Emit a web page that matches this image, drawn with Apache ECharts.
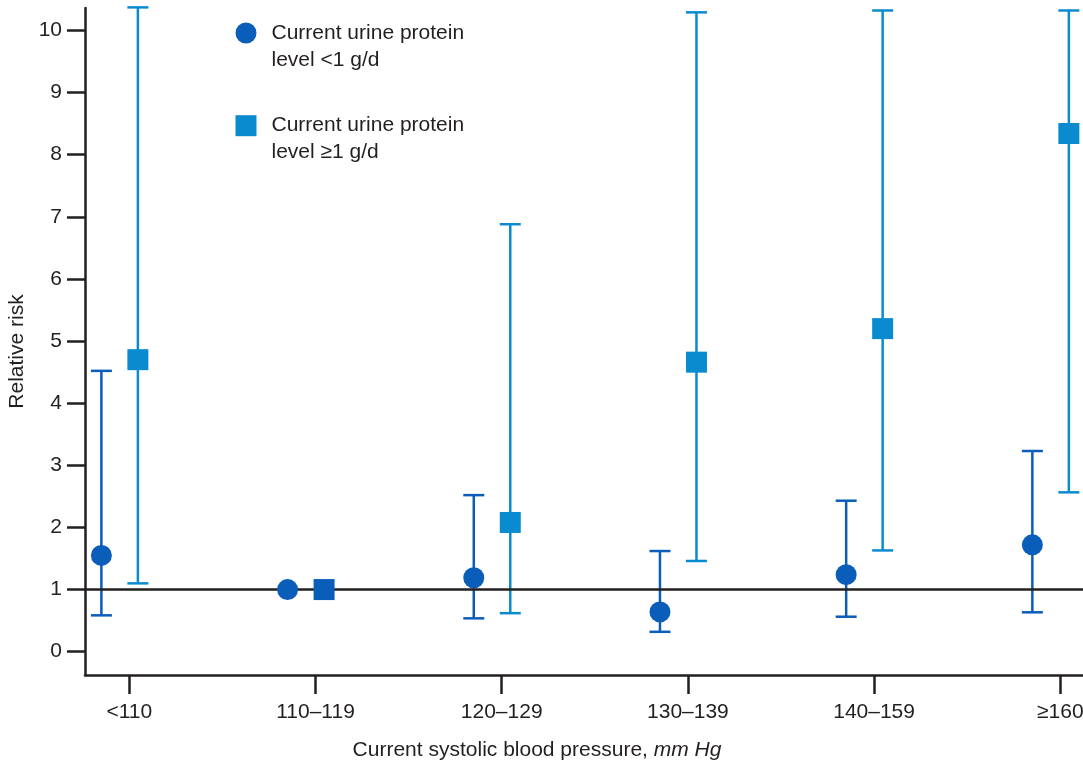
<!DOCTYPE html>
<html>
<head>
<meta charset="utf-8">
<script src="https://cdn.jsdelivr.net/npm/echarts@6/dist/echarts.min.js"></script>
<style>
html,body{margin:0;padding:0;background:#fff;}
#chart{width:1083px;height:763px;}
</style>
</head>
<body>
<div id="chart"></div>
<script>
// ---- data ----
const categories = ['<110', '110–119', '120–129', '130–139', '140–159', '≥160'];
const yTicks = [0, 1, 2, 3, 4, 5, 6, 7, 8, 9, 10];

const lowName = 'Current urine protein\nlevel <1 g/d';
const lowRR = [1.55, 1.0, 1.19, 0.64, 1.24, 1.72];
const lowCILower = [0.585, null, 0.537, 0.32, 0.563, 0.634];
const lowCIUpper = [4.52, null, 2.52, 1.62, 2.43, 3.23];

const highName = 'Current urine protein\nlevel ≥1 g/d';
const highRR = [4.70, 1.0, 2.08, 4.66, 5.20, 8.34];
const highCILower = [1.10, null, 0.62, 1.46, 1.63, 2.565];
const highCIUpper = [10.37, null, 6.88, 10.29, 10.32, 10.32];

const referenceLevel = 1;
const referenceIndex = 1;

// ---- styling / layout constants ----
const DARK = '#0A5DB9';
const LIGHT = '#0A8BD0';
const INK = '#231F20';
const FONT = '"Liberation Sans", Arial, Helvetica, sans-serif';
const FS = 21;
const LOW_OFFSET = -0.150;
const HIGH_OFFSET = 0.046;
const CAP_HALF = 10.5;

function pointData(values, offset) {
  return values.map((v, i) => [i + offset, v]);
}
function barData(lo, hi, offset) {
  const out = [];
  lo.forEach((l, i) => { if (l != null && hi[i] != null) out.push([i + offset, l, hi[i]]); });
  return out;
}
function errorBarSeries(data, color) {
  return {
    type: 'custom',
    data: data,
    clip: false,
    silent: true,
    z: 2,
    renderItem: function (params, api) {
      const x = api.value(0);
      const a = api.coord([x, api.value(1)]);
      const b = api.coord([x, api.value(2)]);
      const st = { stroke: color, lineWidth: 2.5 };
      return {
        type: 'group',
        children: [
          { type: 'line', shape: { x1: a[0], y1: a[1], x2: b[0], y2: b[1] }, style: st },
          { type: 'line', shape: { x1: a[0] - CAP_HALF, y1: a[1], x2: a[0] + CAP_HALF, y2: a[1] }, style: st },
          { type: 'line', shape: { x1: b[0] - CAP_HALF, y1: b[1], x2: b[0] + CAP_HALF, y2: b[1] }, style: st }
        ]
      };
    }
  };
}

const highPoints = pointData(highRR, HIGH_OFFSET).map((p, i) =>
  i === referenceIndex ? { value: p, itemStyle: { color: DARK } } : p);

const chart = echarts.init(document.getElementById('chart'), null, { renderer: 'canvas' });
chart.setOption({
  animation: false,
  backgroundColor: '#ffffff',
  textStyle: { fontFamily: FONT },
  grid: { left: 85, right: 0, top: 8, bottom: 88, containLabel: false, outerBoundsMode: 'none' },
  legend: {
    orient: 'vertical',
    left: 235.5,
    top: -7.5,
    padding: 0,
    itemGap: 11.7,
    itemWidth: 41,
    itemHeight: 21,
    symbolKeepAspect: true,
    selectedMode: false,
    formatter: function (name) { return '\n' + name; },
    textStyle: { fontFamily: FONT, fontSize: FS, color: INK, lineHeight: 27 },
    data: [
      { name: lowName, icon: 'circle' },
      { name: highName, icon: 'path://M0,0L10,0L10,10L0,10Z' }
    ]
  },
  xAxis: {
    type: 'value',
    min: -0.238,
    max: 5.122,
    splitLine: { show: false },
    axisLine: { show: true, onZero: false, lineStyle: { color: INK, width: 2.5 } },
    axisTick: { show: true, length: 19, customValues: categories.map((c, i) => i), lineStyle: { color: INK, width: 2.5 } },
    axisLabel: {
      customValues: categories.map((c, i) => i),
      formatter: function (v) { return categories[Math.round(v)]; },
      margin: 27, fontSize: FS, color: INK, fontFamily: FONT
    },
    name: '{n|Current systolic blood pressure, }{i|mm Hg}{sp|}',
    nameLocation: 'middle',
    nameGap: 65,
    nameTextStyle: {
      rich: {
        n: { fontSize: FS, color: INK, fontFamily: FONT },
        i: { fontSize: FS, color: INK, fontFamily: FONT, fontStyle: 'italic' },
        sp: { width: 94 }
      }
    }
  },
  yAxis: {
    type: 'value',
    min: -0.375,
    max: 10.36,
    splitLine: { show: false },
    axisLine: { show: true, onZero: false, lineStyle: { color: INK, width: 2.5 } },
    axisTick: { show: true, length: 18, customValues: yTicks, lineStyle: { color: INK, width: 2.5 } },
    axisLabel: { customValues: yTicks, margin: 23, fontSize: FS, color: INK, fontFamily: FONT },
    name: '{n|Relative risk}{sp|}',
    nameLocation: 'middle',
    nameRotate: 90,
    nameGap: 52,
    nameTextStyle: {
      rich: {
        n: { fontSize: FS, color: INK, fontFamily: FONT },
        sp: { width: 20 }
      }
    }
  },
  series: [
    {
      type: 'line',
      data: [],
      silent: true,
      markLine: {
        silent: true,
        symbol: 'none',
        label: { show: false },
        lineStyle: { color: INK, width: 2.5, type: 'solid' },
        data: [{ yAxis: referenceLevel }]
      },
      z: 1
    },
    errorBarSeries(barData(lowCILower, lowCIUpper, LOW_OFFSET), DARK),
    errorBarSeries(barData(highCILower, highCIUpper, HIGH_OFFSET), LIGHT),
    {
      name: lowName,
      type: 'scatter',
      symbol: 'circle',
      symbolSize: 21,
      itemStyle: { color: DARK, opacity: 1 },
      data: pointData(lowRR, LOW_OFFSET),
      z: 5
    },
    {
      name: highName,
      type: 'scatter',
      symbol: 'rect',
      symbolSize: 21,
      itemStyle: { color: LIGHT, opacity: 1 },
      data: highPoints,
      z: 5
    }
  ]
});
</script>
</body>
</html>
